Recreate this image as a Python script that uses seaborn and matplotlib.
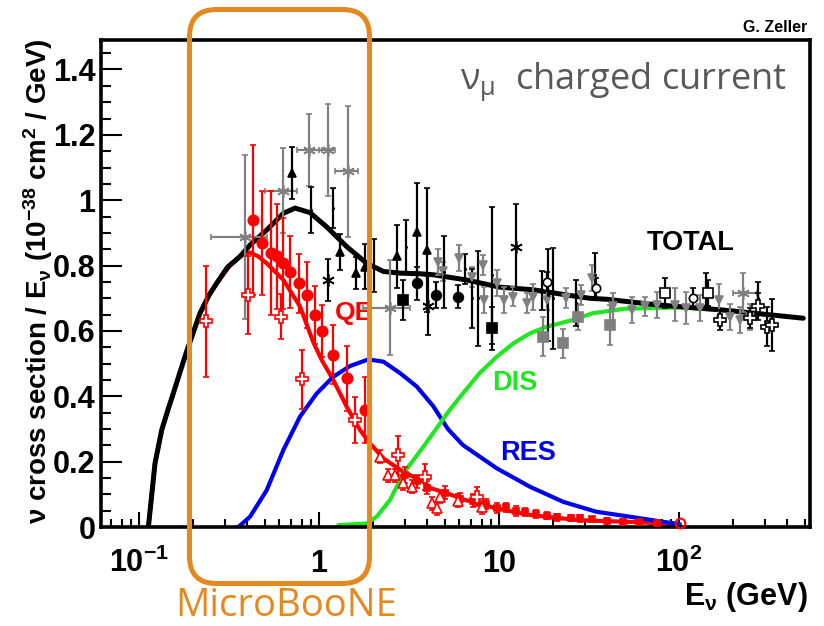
import matplotlib
matplotlib.use('Agg')
import matplotlib.pyplot as plt
from matplotlib.patches import FancyBboxPatch
from matplotlib.transforms import IdentityTransform
from matplotlib.ticker import FixedLocator, MultipleLocator, NullFormatter
import seaborn as sns
import numpy as np
import pandas as pd

# model curves (E in GeV, sigma/E in 1e-38 cm^2/GeV)
tot_E = [0.1127, 0.1227, 0.1337, 0.145, 0.155, 0.1825, 0.218, 0.245, 0.27, 0.31, 0.364, 0.414, 0.512, 0.634, 0.736,
         0.891, 1.10, 1.425, 1.84, 2.28, 2.82, 3.64, 4.31, 6.6, 10.1, 15.5, 23.8, 32, 39.7, 75, 176, 490]
tot_s = [0, 0.195, 0.297, 0.36, 0.409, 0.532, 0.654, 0.71, 0.746, 0.795, 0.828, 0.863, 0.909, 0.960, 0.976,
         0.962, 0.919, 0.858, 0.807, 0.782, 0.777, 0.775, 0.772, 0.756, 0.734, 0.726, 0.710, 0.700, 0.697, 0.680, 0.664, 0.639]

qe_E = [0.1127, 0.1227, 0.1337, 0.145, 0.155, 0.1825, 0.218, 0.245, 0.27, 0.32, 0.364, 0.414, 0.46, 0.512, 0.634, 0.784,
        0.93, 1.035, 1.2, 1.425, 1.69, 1.92, 2.28, 2.94, 3.8, 4.14, 5.35, 6.3, 9.7, 14.9, 28, 53, 97]
qe_s = [0, 0.195, 0.297, 0.36, 0.409, 0.532, 0.654, 0.71, 0.746, 0.80, 0.828, 0.840, 0.828, 0.807, 0.756, 0.675,
        0.565, 0.511, 0.450, 0.368, 0.297, 0.256, 0.21, 0.169, 0.139, 0.12, 0.10, 0.085, 0.057, 0.037, 0.021, 0.016, 0.009]

res_E = [0.356, 0.414, 0.512, 0.634, 0.784, 0.971, 1.2, 1.49, 1.88, 2.28, 2.82, 3.49, 4.31, 5.2, 6.3,
         9.7, 14.9, 22.8, 34.7, 53, 82, 101]
res_s = [0, 0.032, 0.113, 0.236, 0.338, 0.409, 0.460, 0.493, 0.513, 0.506, 0.471, 0.430, 0.370, 0.30, 0.251,
         0.180, 0.123, 0.077, 0.047, 0.032, 0.016, 0.009]

dis_E = [1.28, 1.84, 2.09, 2.48, 2.94, 3.8, 4.7, 5.35, 6.3, 7.8, 9.7, 12, 14.9, 18.4, 25.8, 33, 50, 100, 200, 330]
dis_s = [0.006, 0.011, 0.032, 0.083, 0.164, 0.246, 0.317, 0.36, 0.409, 0.471, 0.521, 0.562, 0.593, 0.613,
         0.634, 0.654, 0.668, 0.672, 0.662, 0.648]

# QE data (red)
red_circ_E = [0.432, 0.484, 0.539, 0.582, 0.633, 0.69, 0.77, 0.855, 0.95, 1.04, 1.2, 1.43, 1.8]
red_circ_s = [0.94, 0.869, 0.838, 0.828, 0.807, 0.78, 0.746, 0.71, 0.649, 0.60, 0.527, 0.455, 0.358]
red_circ_err = [0.23, 0.16, 0.19, 0.16, 0.14, 0.11, 0.09, 0.10, 0.09, 0.08, 0.09, 0.10, 0.10]

red_cross_E = [0.236, 0.401, 0.613, 0.801, 1.585, 2.76, 3.88, 7.5]
red_cross_s = [0.629, 0.71, 0.644, 0.452, 0.328, 0.22, 0.154, 0.093]
red_cross_err = [0.17, 0.12, 0.07, 0.09, 0.07, 0.06, 0.04, 0.03]

red_tri_E = [2.18, 2.43, 2.64, 2.94, 3.27, 4.23, 4.5, 4.7, 5.9, 8.0]
red_tri_s = [0.215, 0.159, 0.159, 0.134, 0.123, 0.073, 0.057, 0.093, 0.08, 0.06]
red_tri_err = [0.02, 0.02, 0.02, 0.02, 0.02, 0.02, 0.02, 0.02, 0.02, 0.02]

red_band_E = [3.0, 3.5, 4.0, 5.0, 6.1, 7.2, 8.5, 9.7, 11.0, 12.5, 14.0, 16.0, 18.5, 21.0, 25.0,
              28.0, 33.0, 40.0, 49.0, 60.0, 75.0]
red_band_s = [0.16, 0.14, 0.12, 0.105, 0.085, 0.08, 0.07, 0.058, 0.06, 0.05, 0.045, 0.04, 0.035, 0.03,
              0.028, 0.027, 0.024, 0.02, 0.016, 0.015, 0.012]
red_band_err = [0.025, 0.02, 0.02, 0.02, 0.02, 0.02, 0.015, 0.015, 0.015, 0.015, 0.012, 0.012, 0.01,
                0.01, 0.01, 0.01, 0.008, 0.008, 0.008, 0.006, 0.006]

# total cross section data (gray / black)
gray_x_E = [0.388, 0.634, 0.884, 1.126, 1.455, 2.48, 228]
gray_x_s = [0.887, 1.029, 1.154, 1.154, 1.088, 0.671, 0.717]
gray_x_err = [0.25, 0.13, 0.11, 0.14, 0.20, 0.145, 0.06]
gray_x_lo = [0.251, 0.50, 0.752, 1.0, 1.227, 1.76, 200]
gray_x_hi = [0.512, 0.752, 1.035, 1.227, 1.65, 3.2, 270]

gray_v_E = [4.6, 4.9, 6.0, 7.05, 8.1, 8.2, 9.7, 10.6, 12, 14.3, 15.5, 18.4, 23.7, 28.7, 33, 43, 54.6,
            65, 75, 95, 110, 130, 166, 191, 218, 248]
gray_v_s = [0.812, 0.782, 0.823, 0.766, 0.802, 0.695, 0.746, 0.695, 0.705, 0.685, 0.705, 0.695, 0.700,
            0.710, 0.761, 0.675, 0.664, 0.675, 0.680, 0.680, 0.670, 0.670, 0.695, 0.644, 0.634, 0.644]
gray_v_err = [0.04, 0.03, 0.04, 0.03, 0.03, 0.04, 0.04, 0.04, 0.03, 0.03, 0.04, 0.03, 0.03, 0.03, 0.04,
              0.04, 0.04, 0.03, 0.04, 0.05, 0.05, 0.04, 0.05, 0.04, 0.04, 0.04]

gray_sq_E = [17.6, 22.6, 27.5, 41.5]
gray_sq_s = [0.583, 0.562, 0.644, 0.618]
gray_sq_err = [0.06, 0.045, 0.04, 0.06]

blk_tri_E = [0.705, 1.30, 1.605, 1.80, 2.72, 3.52, 4.0]
blk_tri_s = [1.083, 0.843, 0.777, 0.797, 0.828, 0.904, 0.848]
blk_tri_err = [0.08, 0.055, 0.05, 0.07, 0.095, 0.15, 0.19]

blk_bar_E = [0.903, 1.2, 2.02, 3.04, 4.97, 6.47, 7.05, 7.6, 9.1, 17.3, 18.8, 19.9, 26.8, 34, 142, 275]
blk_bar_s = [0.971, 0.976, 0.80, 0.858, 0.78, 0.79, 0.70, 0.70, 0.77, 0.725, 0.71, 0.70, 0.685, 0.77, 0.726, 0.70]
blk_bar_err = [0.07, 0.06, 0.08, 0.08, 0.11, 0.045, 0.09, 0.145, 0.21, 0.06, 0.14, 0.155, 0.07, 0.07, 0.05, 0.05]

blk_circ_E = [3.52, 4.47, 5.93]
blk_circ_s = [0.746, 0.710, 0.705]
blk_circ_err = [0.05, 0.04, 0.035]

blk_sq_E = [2.94, 9.1]
blk_sq_s = [0.695, 0.608]
blk_sq_err = [0.06, 0.065]

blk_star_E = [1.117, 4.01, 12.4]
blk_star_s = [0.756, 0.677, 0.858]
blk_star_err = [0.065, 0.09, 0.13]

blk_cross_E = [169, 248, 275, 307, 327]
blk_cross_s = [0.634, 0.639, 0.675, 0.613, 0.618]
blk_cross_err = [0.03, 0.03, 0.04, 0.06, 0.08]

blk_osq_E = [83.8, 145]
blk_osq_s = [0.716, 0.716]
blk_osq_err = [0.045, 0.04]

blk_ocirc_E = [18.4, 34.7, 120]
blk_ocirc_s = [0.751, 0.731, 0.70]
blk_ocirc_err = [0.03, 0.03, 0.03]

qe_end_E = [101]
qe_end_s = [0.011]

xticks = [0.1, 1, 10, 100]
xticklabels = [r'$\mathregular{10^{-1}}$', '1', '10', r'$\mathregular{10^{2}}$']
yticks = [0, 0.2, 0.4, 0.6, 0.8, 1.0, 1.2, 1.4]
yticklabels = ['0', '0.2', '0.4', '0.6', '0.8', '1', '1.2', '1.4']

colors = {'QE': '#ff0000', 'RES': '#0000ee', 'DIS': '#22e622', 'TOTAL': 'black'}
gray = '#808080'
orange = '#e5891f'

sns.set_style('ticks', {'axes.edgecolor': 'black', 'xtick.color': 'black', 'ytick.color': 'black',
                        'text.color': 'black', 'axes.labelcolor': 'black'})
plt.rcParams['font.family'] = ['Liberation Sans', 'DejaVu Sans']
plt.rcParams['font.weight'] = 'bold'

fig = plt.figure(figsize=(8.24, 6.26), dpi=100)
ax = fig.add_axes([0.1226, 0.158, 0.8604, 0.778])
ax.set_xscale('log')

comp = pd.concat([
    pd.DataFrame({'E': qe_E, 'xsec': qe_s, 'process': 'QE'}),
    pd.DataFrame({'E': res_E, 'xsec': res_s, 'process': 'RES'}),
    pd.DataFrame({'E': dis_E, 'xsec': dis_s, 'process': 'DIS'}),
], ignore_index=True)
total = pd.DataFrame({'E': tot_E, 'xsec': tot_s})

sns.lineplot(data=comp, x='E', y='xsec', hue='process', hue_order=['QE', 'RES', 'DIS'],
             palette=colors, estimator=None, sort=False, lw=3.0, legend=False, ax=ax)
sns.lineplot(data=total, x='E', y='xsec', color='black', estimator=None, sort=False, lw=3.6, ax=ax)


def points(E, s, err, color, marker, ms, mfc=None, xerr=None, mew=1.2):
    ax.errorbar(E, s, yerr=err, xerr=xerr, marker=marker, ls='none', color=color, ms=ms,
                mfc=color if mfc is None else mfc, mec=color, mew=mew,
                elinewidth=1.6, capsize=2.5, capthick=1.6, zorder=4)


# gray & black total data
gx_err = [np.array(gray_x_E) - np.array(gray_x_lo), np.array(gray_x_hi) - np.array(gray_x_E)]
points(gray_x_E, gray_x_s, gray_x_err, gray, (6, 2, 0), 9, xerr=gx_err)
points(gray_v_E, gray_v_s, gray_v_err, gray, 'v', 6)
points(gray_sq_E, gray_sq_s, gray_sq_err, gray, 's', 7)
points(blk_bar_E, blk_bar_s, blk_bar_err, 'black', '.', 2)
points(blk_tri_E, blk_tri_s, blk_tri_err, 'black', '^', 6)
points(blk_circ_E, blk_circ_s, blk_circ_err, 'black', 'o', 7)
points(blk_sq_E, blk_sq_s, blk_sq_err, 'black', 's', 7)
points(blk_star_E, blk_star_s, blk_star_err, 'black', (6, 2, 0), 9)
points(blk_cross_E, blk_cross_s, blk_cross_err, 'black', 'P', 8, mfc='white')
points(blk_osq_E, blk_osq_s, blk_osq_err, 'black', 's', 7, mfc='white')
points(blk_ocirc_E, blk_ocirc_s, blk_ocirc_err, 'black', 'o', 6, mfc='white')

# red QE data
points(red_band_E, red_band_s, red_band_err, colors['QE'], 's', 4)
points(red_tri_E, red_tri_s, red_tri_err, colors['QE'], '^', 7, mfc='white')
points(red_cross_E, red_cross_s, red_cross_err, colors['QE'], 'P', 8, mfc='white')
points(red_circ_E, red_circ_s, red_circ_err, colors['QE'], 'o', 7.5)
ax.plot(qe_end_E, qe_end_s, 'o', ms=7, mfc='none', mec=colors['QE'], mew=1.5, clip_on=False, zorder=5)

ax.set_xlim(0.0615, 534)
ax.set_ylim(0, 1.49)
ax.set_xlabel('')
ax.set_ylabel('')

ax.set_xticks(xticks, labels=xticklabels)
ax.xaxis.set_minor_locator(FixedLocator([m * 10.0 ** k for k in range(-2, 3) for m in range(2, 10)]))
ax.xaxis.set_minor_formatter(NullFormatter())
ax.set_yticks(yticks, labels=yticklabels)
ax.yaxis.set_minor_locator(MultipleLocator(0.05))

ax.tick_params(which='both', direction='in', top=False, right=False, width=1.5, labelsize=22)
ax.tick_params(axis='y', which='major', length=15, pad=4)
ax.tick_params(axis='y', which='minor', length=7.5)
ax.tick_params(axis='x', which='major', length=11, pad=32)
ax.tick_params(axis='x', which='minor', length=6)
for lbl in ax.get_xticklabels():
    lbl.set_va('baseline')

for sp in ax.spines.values():
    sp.set_linewidth(2.6)
    sp.set_color('black')
    sp.set_visible(True)

# curve labels
ax.text(66.4, 0.848, 'TOTAL', fontsize=19.5, color='black', ha='left', va='baseline')
ax.text(1.227, 0.634, 'QE', fontsize=19, color=colors['QE'], ha='left', va='baseline')
ax.text(9.11, 0.419, 'DIS', fontsize=19.5, color=colors['DIS'], ha='left', va='baseline')
ax.text(10.1, 0.205, 'RES', fontsize=19.5, color=colors['RES'], ha='left', va='baseline')

ax.text(0.9676, 0.8994, r'$\mathregular{ν_μ}$  charged current', transform=ax.transAxes,
        ha='right', va='baseline', fontsize=26, color='#595959',
        family=['Open Sans', 'DejaVu Sans'], fontweight='normal')

ax.text(0.996, -0.16, r'$\mathregular{E_ν}$ (GeV)', transform=ax.transAxes,
        ha='right', va='baseline', fontsize=22)
fig.text(0.046, 0.551, r'ν cross section / $\mathregular{E_ν}$ ($\mathregular{10^{-38}}$ $\mathregular{cm^2}$ / GeV)',
         rotation=90, ha='center', va='center', fontsize=20)
fig.text(807 / 824, 1 - 27 / 626, 'G. Zeller', ha='right', va='center', fontsize=11.5)

# MicroBooNE energy range highlight
box = FancyBboxPatch((189.5, 42.5), 180, 574, boxstyle='round,pad=0,rounding_size=27',
                     transform=IdentityTransform(), fill=False, ec=orange, lw=3.6, zorder=10)
fig.add_artist(box)
fig.text(286 / 824, 1 - 616 / 626, 'MicroBooNE', ha='center', va='baseline', fontsize=27.5,
         color=orange, family=['Open Sans', 'DejaVu Sans'], fontweight='normal')

fig.savefig('out.png', dpi=100)
